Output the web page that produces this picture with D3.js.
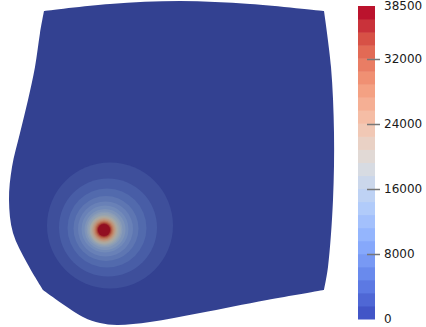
<!DOCTYPE html>
<html lang="en">
<head>
<meta charset="utf-8">
<title>Field plot</title>
<script src="https://cdnjs.cloudflare.com/ajax/libs/d3/7.8.5/d3.min.js"></script>
<style>
	body { margin: 0; background: #fff; }
	.cbar text { font: 12px "DejaVu Sans", sans-serif; fill: #1a1a1a; }
	.cbar line { stroke: #777; stroke-width: 1.5px; }
</style>
</head>
<body>
<div id="chart"></div>
<script>
	// colour range of the scalar field
	var valueMin = 0;
	var valueMax = 38500;
	var bandCount = 24;
	var tickValues = [0, 8000, 16000, 24000, 32000, 38500];
	var tickLabels = ["0", "8000", "16000", "24000", "32000", "38500"];

	// cool-to-warm colour stops (position 0..1, rgb)
	var cmapPos = [0, 0.125, 0.25, 0.375, 0.5, 0.625, 0.75, 0.875, 1];
	var cmapColors = ["#3b4cc0", "#6282ea", "#8db0fe", "#b8d0f9", "#dddddd",
		"#f5c4ad", "#f49a7b", "#de604d", "#b40426"];

	// domain outline, one list per edge (pixel coords)
	var edgeTop = [[44, 11], [110, 4], [180, 1], [250, 4], [324, 11]];
	var edgeRight = [[324, 11], [331, 67], [334, 133], [333, 200], [328, 267], [324, 290]];
	var edgeBottom = [[324, 290], [267, 300], [200, 313], [150, 322], [117, 325], [100, 323], [83, 317], [43, 290]];
	var edgeLeft = [[43, 290], [27, 263], [13, 233], [9, 200], [12, 167], [20, 133], [28, 100], [35, 67], [40, 33], [44, 11]];

	// contour rings around the hot spot: band index, radius, centre
	var ringBand = [1, 2, 3, 4, 5, 6, 7, 8, 9, 10, 11, 12, 13, 14, 15, 16, 17, 18, 19, 20, 21, 22, 23];
	var ringRadius = [63, 49, 39.5, 32.5, 27.5, 23.5, 20.5, 18, 16.5, 15, 14, 13, 12, 11.2, 10.5, 9.8, 9.2, 8.6, 8, 7.5, 7, 6.5, 6];
	var ringCx = [110, 108, 107, 106, 105.5, 105, 105, 104.5, 104.5, 104.5, 104, 104, 104, 104, 104, 104, 104, 104, 104, 104, 104, 104, 104];
	var ringCy = [225.5, 227.5, 228, 228.5, 229, 229, 229.5, 229.5, 229.5, 230, 230, 230, 230, 230, 230, 230, 230, 230, 230, 230, 230, 230, 230];

	var width = 426, height = 327;

	var svg = d3.select("#chart").append("svg")
		.attr("width", width)
		.attr("height", height);

	var cmap = d3.scaleLinear().domain(cmapPos).range(cmapColors).interpolate(d3.interpolateRgb);
	var step = (valueMax - valueMin) / bandCount;
	function bandColor(k) {
		return cmap((k + 0.5) / bandCount);
	}
	// surface is lit, so it reads darker than the legend
	function shade(c) {
		var r = d3.rgb(c);
		return d3.rgb(r.r * 0.78, r.g * 0.77, r.b * 0.73).toString();
	}

	// build outline path from the four edges
	var edgeLine = d3.line().curve(d3.curveCatmullRom);
	var outline = [edgeTop, edgeRight, edgeBottom, edgeLeft].map(function(e, i) {
		var p = edgeLine(e);
		return i == 0 ? p : p.replace(/^M[^C]*C/, "C");
	}).join("") + "Z";

	svg.append("clipPath").attr("id", "dom")
		.append("path").attr("d", outline);

	svg.append("path")
		.attr("d", outline)
		.attr("fill", shade(bandColor(0)));

	var rings = ringBand.map(function(b, i) {
		return { band: b, r: ringRadius[i], cx: ringCx[i], cy: ringCy[i] };
	});

	svg.append("g").attr("clip-path", "url(#dom)")
		.selectAll("circle")
		.data(rings)
		.enter().append("circle")
		.attr("cx", function(d) { return d.cx; })
		.attr("cy", function(d) { return d.cy; })
		.attr("r", function(d) { return d.r; })
		.attr("fill", function(d) { return shade(bandColor(d.band)); });

	// colour bar
	var barX = 358, barW = 17;
	var yBar = d3.scaleLinear().domain([valueMin, valueMax]).range([319, 6]);
	var bands = d3.range(bandCount);

	var cbar = svg.append("g").attr("class", "cbar");
	cbar.selectAll("rect")
		.data(bands)
		.enter().append("rect")
		.attr("x", barX)
		.attr("width", barW)
		.attr("y", function(k) { return yBar(valueMin + (k + 1) * step); })
		.attr("height", function(k) { return yBar(valueMin + k * step) - yBar(valueMin + (k + 1) * step) + 0.5; })
		.attr("fill", function(k) { return bandColor(k); });

	cbar.selectAll("line")
		.data(tickValues.filter(function(v) { return v > valueMin && v < valueMax; }))
		.enter().append("line")
		.attr("x1", 367).attr("x2", 380)
		.attr("y1", function(v) { return Math.round(yBar(v)) + 0.5; })
		.attr("y2", function(v) { return Math.round(yBar(v)) + 0.5; });

	cbar.selectAll("text")
		.data(tickValues)
		.enter().append("text")
		.attr("x", 384)
		.attr("y", function(v) { return yBar(v); })
		.attr("dy", "0.36em")
		.text(function(v, i) { return tickLabels[i]; });
</script>
</body>
</html>
